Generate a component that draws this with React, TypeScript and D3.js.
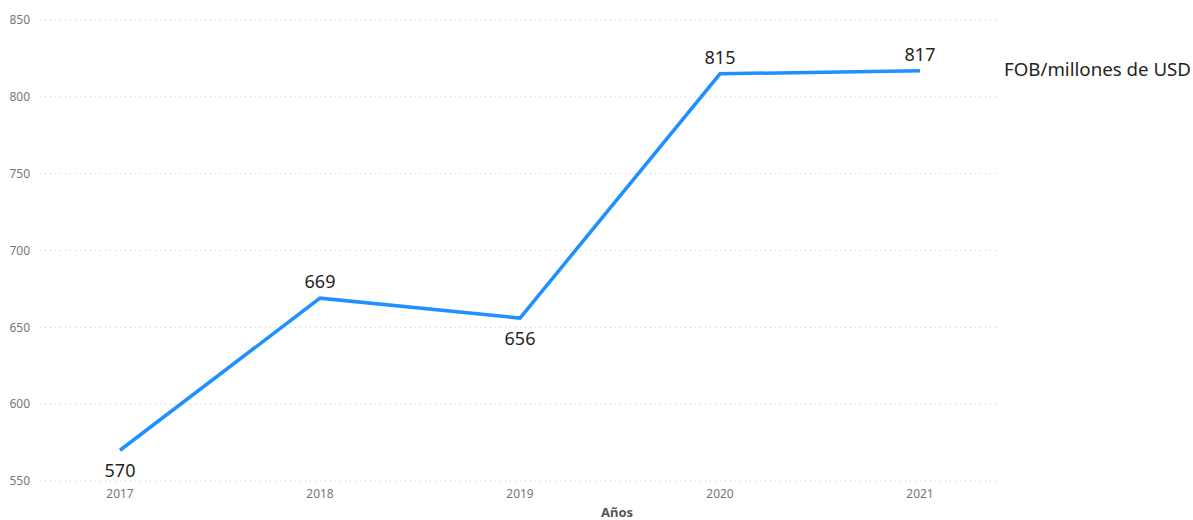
import React from "react";
import * as d3 from "d3";

const years = ["2017", "2018", "2019", "2020", "2021"];
const values = [570, 669, 656, 815, 817];
const labelAbove = [false, true, false, true, true];
const yTicks = [550, 600, 650, 700, 750, 800, 850];
const seriesName = "FOB/millones de USD";
const xTitle = "Años";

const W = 1193;
const H = 520;
const FONT = "'Segoe UI', 'Noto Sans', 'Open Sans', sans-serif";

export default function App() {
  const x = d3.scalePoint<string>().domain(years).range([120, 920]);
  const y = d3.scaleLinear().domain([550, 850]).range([481, 20]);
  const line = d3
    .line<number>()
    .x((_, i) => x(years[i]) as number)
    .y((d) => y(d));

  return (
    <svg
      width={W}
      height={H}
      style={{ position: "absolute", left: 0, top: 0, background: "#fff" }}
      fontFamily={FONT}
    >
      {yTicks.map((t) => (
        <g key={t}>
          <line
            x1={40}
            x2={1000}
            y1={y(t)}
            y2={y(t)}
            stroke="#c8c8c8"
            strokeWidth={1}
            strokeDasharray="1 4"
          />
          <text
            x={30}
            y={y(t)}
            dy="0.35em"
            textAnchor="end"
            fontSize={12}
            fill="#777"
          >
            {t}
          </text>
        </g>
      ))}
      {years.map((yr) => (
        <text
          key={yr}
          x={x(yr) as number}
          y={498}
          textAnchor="middle"
          fontSize={12}
          fill="#777"
        >
          {yr}
        </text>
      ))}
      <text
        x={617}
        y={517}
        textAnchor="middle"
        fontSize={13}
        fontWeight="bold"
        fill="#555"
      >
        {xTitle}
      </text>
      <path
        d={line(values) || ""}
        fill="none"
        stroke="#1e90ff"
        strokeWidth={3.5}
        strokeLinejoin="miter"
      />
      {values.map((v, i) => (
        <text
          key={i}
          x={x(years[i]) as number}
          y={labelAbove[i] ? y(v) - 10 : y(v) + 27}
          textAnchor="middle"
          fontSize={18}
          fill="#252423"
        >
          {v}
        </text>
      ))}
      <text x={1004} y={76} fontSize={18.7} fill="#252423">
        {seriesName}
      </text>
    </svg>
  );
}
